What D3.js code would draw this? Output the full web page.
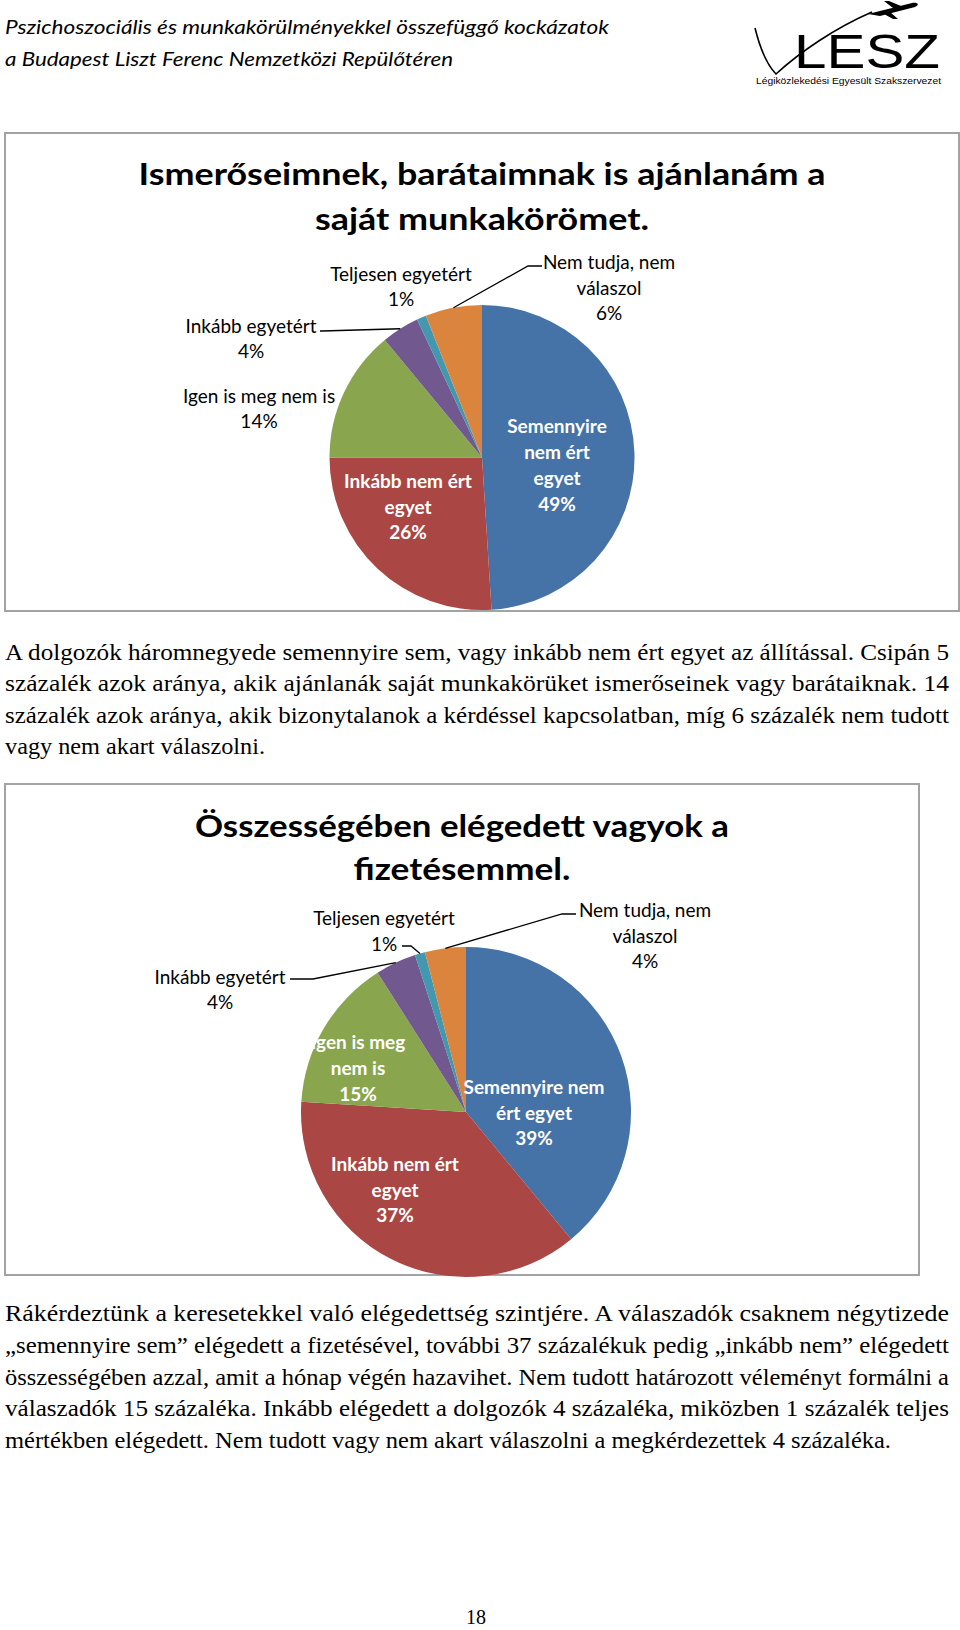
<!DOCTYPE html>
<html>
<head>
<meta charset="utf-8">
<script src="https://cdn.jsdelivr.net/npm/d3@7"></script>
<style>
  body { margin: 0; background: #fff; }
</style>
</head>
<body>
<script>
// ---- data ----
var categories = ["Semennyire nem ért egyet", "Inkább nem ért egyet", "Igen is meg nem is",
                  "Inkább egyetért", "Teljesen egyetért", "Nem tudja, nem válaszol"];
var colors = ["#4572A7", "#AA4643", "#89A54E", "#71588F", "#4198AF", "#DB843D"];

var chart1Title = ["Ismerőseimnek, barátaimnak is ajánlanám a", "saját munkakörömet."];
var chart1Values = [49, 26, 14, 4, 1, 6];
var chart1Labels = [["Semennyire", "nem ért", "egyet"], ["Inkább nem ért", "egyet"], ["Igen is meg nem is"],
                    ["Inkább egyetért"], ["Teljesen egyetért"], ["Nem tudja, nem", "válaszol"]];

var chart2Title = ["Összességében elégedett vagyok a", "fizetésemmel."];
var chart2Values = [39, 37, 15, 4, 1, 4];
var chart2Labels = [["Semennyire nem", "ért egyet"], ["Inkább nem ért", "egyet"], ["Igen is meg", "nem is"],
                    ["Inkább egyetért"], ["Teljesen egyetért"], ["Nem tudja, nem", "válaszol"]];

var headerLines = ["Pszichoszociális és munkakörülményekkel összefüggő kockázatok",
                   "a Budapest Liszt Ferenc Nemzetközi Repülőtéren"];
var logoText = "LESZ";
var logoSub = "Légiközlekedési Egyesült Szakszervezet";

var para1Lines = [
  "A dolgozók háromnegyede semennyire sem, vagy inkább nem ért egyet az állítással. Csipán 5",
  "százalék azok aránya, akik ajánlanák saját munkakörüket ismerőseinek vagy barátaiknak. 14",
  "százalék azok aránya, akik bizonytalanok a kérdéssel kapcsolatban, míg 6 százalék nem tudott",
  "vagy nem akart válaszolni."
];
var para2Lines = [
  "Rákérdeztünk a keresetekkel való elégedettség szintjére. A válaszadók csaknem négytizede",
  "„semennyire sem” elégedett a fizetésével, további 37 százalékuk pedig „inkább nem” elégedett",
  "összességében azzal, amit a hónap végén hazavihet. Nem tudott határozott véleményt formálni a",
  "válaszadók 15 százaléka. Inkább elégedett a dolgozók 4 százaléka, miközben 1 százalék teljes",
  "mértékben elégedett. Nem tudott vagy nem akart válaszolni a megkérdezettek 4 százaléka."
];
var pageNumber = "18";

// ---- layout ----
var W = 960, H = 1630;
var labelFont = "Lato, 'Open Sans', sans-serif";
var bodyFont = "'Liberation Serif', 'DejaVu Serif', serif";

var svg = d3.select("body").append("svg")
  .attr("width", W)
  .attr("height", H);

// header
var headerG = svg.append("g");
headerLines.forEach(function(s, i) {
  headerG.append("text")
    .attr("x", 5)
    .attr("y", [34, 66][i])
    .attr("font-family", labelFont)
    .attr("font-style", "italic")
    .attr("font-size", 19)
    .attr("textLength", [604, 448][i])
    .attr("lengthAdjust", "spacingAndGlyphs")
    .text(s);
});

// logo (rough drawing)
var logo = svg.append("g");
logo.append("path")
  .attr("d", "M755,28 C760,48 766,64 776,74 C800,52 835,28 872,12")
  .attr("fill", "none")
  .attr("stroke", "#000")
  .attr("stroke-width", 1.6);
logo.append("path")
  .attr("d", "M868,14 L912,3 C918,2 920,5 915,7 L880,16 Z M893,8 L884,1 L889,1 L901,6 Z M890,12 L898,19 L893,19 L884,14 Z")
  .attr("fill", "#000");
logo.append("text")
  .attr("x", 794)
  .attr("y", 68)
  .attr("font-family", "'Liberation Sans', Arial, sans-serif")
  .attr("font-size", 48)
  .attr("textLength", 146)
  .attr("lengthAdjust", "spacingAndGlyphs")
  .text(logoText);
logo.append("text")
  .attr("x", 756)
  .attr("y", 84)
  .attr("font-family", "'Liberation Sans', Arial, sans-serif")
  .attr("font-size", 9)
  .attr("textLength", 185)
  .attr("lengthAdjust", "spacingAndGlyphs")
  .text(logoSub);

var layouts = [
  { box: [5, 133, 959, 611], cx: 482, cy: 457.5, r: 152.5,
    titleY: [173, 218], titleLen: [687, 334],
    inside: [true, true, false, false, false, false],
    labelAt: [[75, 7], [-74, 48.5], [-223, -49.5], [-231, -119.5], [-81, -171.5], [127, -170.5]],
    leaders: [null, null, null, [[-160, -126.5], -162], null, [[46, -191.5], 60]] },
  { box: [5, 784, 919, 1275], cx: 466, cy: 1112, r: 165,
    titleY: [825, 868], titleLen: [534, 217],
    inside: [true, true, true, false, false, false],
    labelAt: [[68, 0], [-71, 77], [-108, -44.5], [-246, -123], [-82, -181.5], [179, -177]],
    leaders: [null, null, null, [[-153, -133], -176], [[-55, -166], -64], [[96, -198], 110]] }
];

function drawPie(values, labels, title, L) {
  var g = svg.append("g");
  g.append("rect")
    .attr("x", L.box[0])
    .attr("y", L.box[1])
    .attr("width", L.box[2] - L.box[0])
    .attr("height", L.box[3] - L.box[1])
    .attr("fill", "#fff")
    .attr("stroke", "#a3a3a3")
    .attr("stroke-width", 2);

  var midX = (L.box[0] + L.box[2]) / 2;
  title.forEach(function(s, i) {
    g.append("text")
      .attr("x", midX)
      .attr("y", L.titleY[i])
      .attr("text-anchor", "middle")
      .attr("dominant-baseline", "central")
      .attr("font-family", labelFont)
      .attr("font-weight", "bold")
      .attr("font-size", 31)
      .attr("textLength", L.titleLen[i])
      .attr("lengthAdjust", "spacingAndGlyphs")
      .text(s);
  });

  var pie = d3.pie().sort(null).value(function(d) { return d; });
  var arcs = pie(values);
  var arc = d3.arc().innerRadius(0).outerRadius(L.r);
  var rim = d3.arc().innerRadius(L.r).outerRadius(L.r);

  var pg = g.append("g").attr("transform", "translate(" + L.cx + "," + L.cy + ")");
  pg.selectAll("path.slice")
    .data(arcs)
    .join("path")
    .attr("class", "slice")
    .attr("d", arc)
    .attr("fill", function(d, i) { return colors[i]; });

  // leader lines from the slice rim to the label
  arcs.forEach(function(d, i) {
    var ld = L.leaders[i];
    if (!ld) return;
    var p = rim.centroid(d);
    pg.append("path")
      .attr("d", d3.line()([p, ld[0], [ld[1], ld[0][1]]]))
      .attr("fill", "none")
      .attr("stroke", "#000")
      .attr("stroke-width", 1.3);
  });

  // data labels
  var lh = 25.7;
  arcs.forEach(function(d, i) {
    var lines = labels[i].concat([values[i] + "%"]);
    var pos = L.labelAt[i];
    var t = pg.append("text")
      .attr("text-anchor", "middle")
      .attr("font-family", labelFont)
      .attr("font-size", 19)
      .attr("font-weight", L.inside[i] ? "bold" : "normal")
      .attr("fill", L.inside[i] ? "#fff" : "#000");
    lines.forEach(function(s, k) {
      t.append("tspan")
        .attr("x", pos[0])
        .attr("y", pos[1] + (k - (lines.length - 1) / 2) * lh)
        .attr("dominant-baseline", "central")
        .text(s);
    });
  });
}

drawPie(chart1Values, chart1Labels, chart1Title, layouts[0]);
drawPie(chart2Values, chart2Labels, chart2Title, layouts[1]);

// body paragraphs (justified lines stretched to the full text width)
function paragraph(lines, y0, step, lastWidth) {
  lines.forEach(function(s, i) {
    var last = i === lines.length - 1;
    svg.append("text")
      .attr("x", 5)
      .attr("y", y0 + i * step)
      .attr("font-family", bodyFont)
      .attr("font-size", 22.5)
      .attr("textLength", last ? lastWidth : 944)
      .attr("lengthAdjust", "spacingAndGlyphs")
      .text(s);
  });
}
paragraph(para1Lines, 660, 31.3, 260);
paragraph(para2Lines, 1321, 31.75, 886);

svg.append("text")
  .attr("x", 476)
  .attr("y", 1624)
  .attr("text-anchor", "middle")
  .attr("font-family", bodyFont)
  .attr("font-size", 20)
  .text(pageNumber);
</script>
</body>
</html>
